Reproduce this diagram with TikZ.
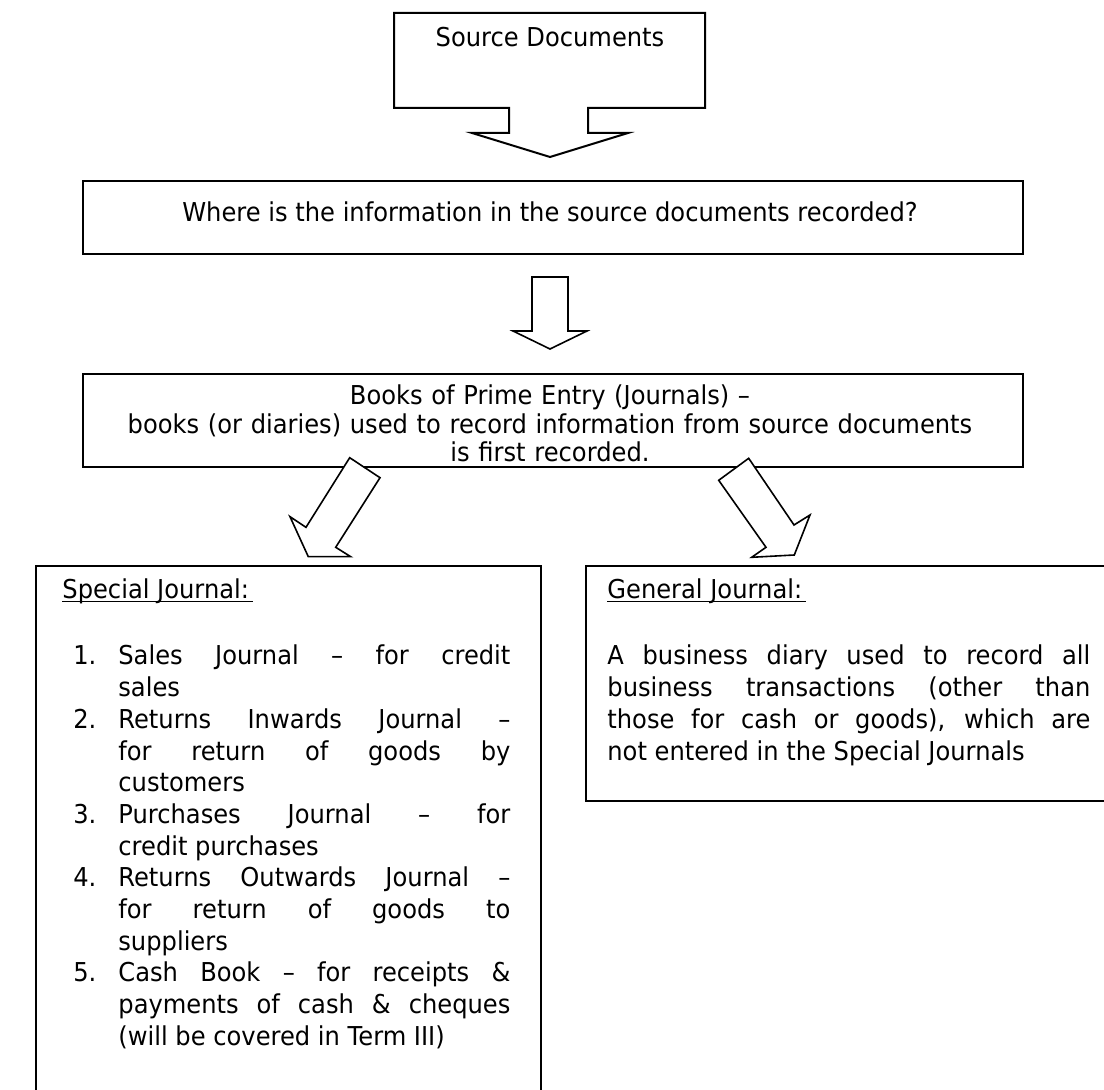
\documentclass[tikz,border=0pt]{standalone}
\usepackage{fontspec}
\setmainfont{DejaVu Sans}[FakeStretch=0.93]
\newcommand\ulhead[1]{\setbox0\hbox{#1\hspace{2pt}}\rlap{\rule[-1.6pt]{\wd0}{0.6pt}}\box0}
\newcommand\jnum[1]{\leavevmode\llap{#1.\hspace{11pt}}}
\newcommand\jitem[1]{\par\jnum{#1}}
\begin{document}
\begin{tikzpicture}[x=0.5pt,y=-0.5pt,
  box/.style={draw, line width=1pt, inner sep=0pt, anchor=north west},
  blockarrow/.style={draw, fill=white, line width=0.8pt, line join=miter},
  txt/.style={inner sep=0pt, font=\fontsize{13pt}{15.85pt}\selectfont}]
\useasboundingbox (0,0) rectangle (1104,1090);
\clip (0,0) rectangle (1104,1090);

% Drawing boxes
\node[box, minimum width=470pt, minimum height=36.5pt] (where) at (82,180) {};
\node[box, minimum width=470pt, minimum height=46.5pt] (books) at (82,373) {};
\node[box, minimum width=252.5pt, minimum height=280pt] (special) at (35,565) {};
\node[box, minimum width=280pt, minimum height=117.5pt] (general) at (585,565) {};

% Drawing box Source Documents with its arrow
\draw[blockarrow, line width=1pt] (394,13) -- (705,13) -- (705,108) -- (588,108) -- (588,133) -- (628,133) -- (550,157) -- (472,133) -- (509,133) -- (509,108) -- (394,108) -- cycle;

% Drawing arrow Where -> Books
\draw[blockarrow] (532,277) -- (568,277) -- (568,331) -- (587,331) -- (550,349) -- (513,331) -- (532,331) -- cycle;

% Drawing arrow Books -> Special
\draw[blockarrow] (349.7,457.7) -- (380,477.7) -- (335.7,547.3) -- (350.7,556.7) -- (308.3,556.7) -- (290,516.7) -- (306,527.3) -- cycle;

% Drawing arrow Books -> General
\draw[blockarrow] (748.7,458.3) -- (794,525) -- (810,515) -- (794.3,555) -- (751.7,557.3) -- (766,547.3) -- (718.7,480.3) -- cycle;

% Writing texts
\node[txt, anchor=base] (source) at (550,47) {Source Documents};
\node[txt, anchor=base] (wheretext) at (550,222) {Where is the information in the source documents recorded?};
\node[txt, anchor=base, text width=470pt, align=center,
      font=\fontsize{13pt}{14.25pt}\selectfont] (bookstext) at (550,405)
  {Books of Prime Entry (Journals) –\\ books (or diaries) used to record information from source documents\\ is first recorded.};

\node[txt, anchor=base west] (spechead) at (62,599) {\ulhead{Special Journal:}};
\node[txt, anchor=base west, text width=196pt, align=justify] (speclist) at (118,665) {%
  \jnum{1}Sales Journal – for credit\linebreak sales
  \jitem{2}Returns Inwards Journal –\linebreak for return of goods by\linebreak customers
  \jitem{3}Purchases Journal – for\linebreak credit purchases
  \jitem{4}Returns Outwards Journal –\linebreak for return of goods to\linebreak suppliers
  \jitem{5}Cash Book – for receipts \&\linebreak payments of cash \& cheques\linebreak (will be covered in Term III)};

\node[txt, anchor=base west] (genhead) at (607,599) {\ulhead{General Journal:}};
\node[txt, anchor=base west, text width=241.5pt, align=justify] (gentext) at (607,665)
  {A business diary used to record all\linebreak business transactions (other than\linebreak those for cash or goods), which are\linebreak not entered in the Special Journals};
\end{tikzpicture}
\end{document}
